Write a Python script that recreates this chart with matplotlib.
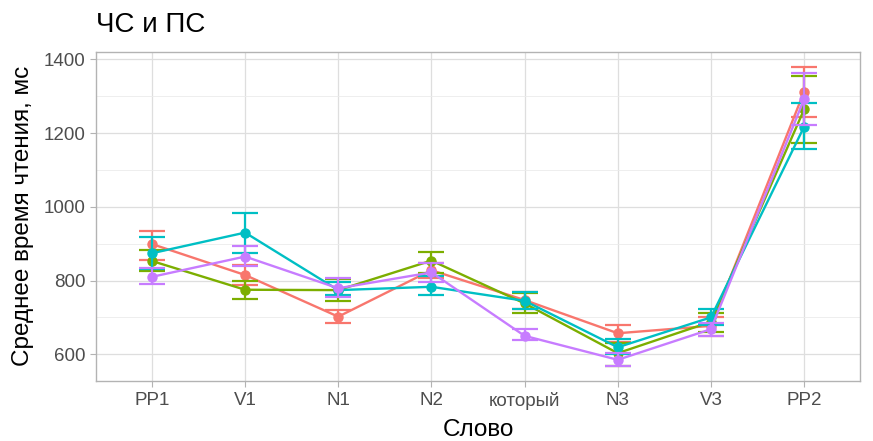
import matplotlib
matplotlib.use("Agg")
import matplotlib.pyplot as plt
from matplotlib.ticker import MultipleLocator
import numpy as np

plt.rcParams['font.family'] = ['Liberation Sans', 'DejaVu Sans']

words = ["PP1", "V1", "N1", "N2", "который", "N3", "V3", "PP2"]
groups = ["g1", "g2", "g3", "g4"]
colors = ["#F8766D", "#7CAE00", "#00BFC4", "#C77CFF"]

mean_g1 = [899, 815, 702, 828, 747, 657, 677, 1312]
low_g1 = [856, 788, 686, 808, 724, 634, 650, 1244]
high_g1 = [935, 842, 720, 848, 768, 679, 700, 1380]

mean_g2 = [853, 775, 774, 854, 738, 603, 688, 1264]
low_g2 = [826, 750, 745, 820, 713, 568, 660, 1174]
high_g2 = [883, 799, 803, 878, 765, 631, 712, 1355]

mean_g3 = [874, 930, 774, 783, 745, 619, 700, 1217]
low_g3 = [830, 876, 761, 761, 722, 600, 679, 1157]
high_g3 = [919, 982, 797, 812, 770, 641, 723, 1281]

mean_g4 = [810, 865, 779, 822, 650, 585, 668, 1292]
low_g4 = [791, 840, 756, 797, 639, 568, 650, 1222]
high_g4 = [834, 895, 806, 848, 668, 603, 686, 1364]

means = [mean_g1, mean_g2, mean_g3, mean_g4]
lows = [low_g1, low_g2, low_g3, low_g4]
highs = [high_g1, high_g2, high_g3, high_g4]

W, H = 873, 441
fig = plt.figure(figsize=(W / 100, H / 100), dpi=100)
ax = fig.add_axes([96 / W, 1 - 381 / H, (860 - 96) / W, (381 - 52.3) / H])

x = np.arange(1, len(words) + 1)
for i, (m, lo, hi, c) in enumerate(zip(means, lows, highs, colors)):
    m = np.array(m); lo = np.array(lo); hi = np.array(hi)
    ax.errorbar(x, m, yerr=[m - lo, hi - m], fmt='none', ecolor=c,
                elinewidth=1.6, capsize=9.5, capthick=1.6, zorder=3 + i * 0.1)
    ax.plot(x, m, color=c, lw=1.7, zorder=3 + i * 0.1 + 0.05)
    ax.plot(x, m, 'o', color=c, ms=6.5, zorder=3 + i * 0.1 + 0.06)

ax.set_xlim(0.4, len(words) + 0.6)
ax.set_ylim(527.5, 1419)
ax.set_xticks(x)
ax.set_xticklabels(words)
ax.yaxis.set_major_locator(MultipleLocator(200))
ax.yaxis.set_minor_locator(MultipleLocator(100))
ax.grid(True, which='major', color='#DEDEDE', lw=0.9, zorder=0)
ax.grid(True, which='minor', axis='y', color='#EBEBEB', lw=0.6, zorder=0)
ax.set_axisbelow(True)
for s in ax.spines.values():
    s.set_color('#B3B3B3')
    s.set_linewidth(1.0)
ax.tick_params(axis='both', which='major', colors='#B3B3B3', length=4.3, width=0.8,
               labelcolor='#4D4D4D', labelsize=13.5, pad=3.5)
ax.tick_params(axis='y', which='minor', length=0)

fig.text(478 / W, 1 - 435.5 / H, "Слово", fontsize=17.5, color='black',
         ha='center', va='baseline')
fig.text(23 / W, 1 - 216 / H, "Среднее время чтения, мс", fontsize=17.5,
         color='black', rotation=90, ha='center', va='center')
fig.text(96 / W, 1 - 32.3 / H, "ЧС и ПС", fontsize=20, color='black',
         va='baseline', ha='left')

fig.savefig("out.png", dpi=100)
